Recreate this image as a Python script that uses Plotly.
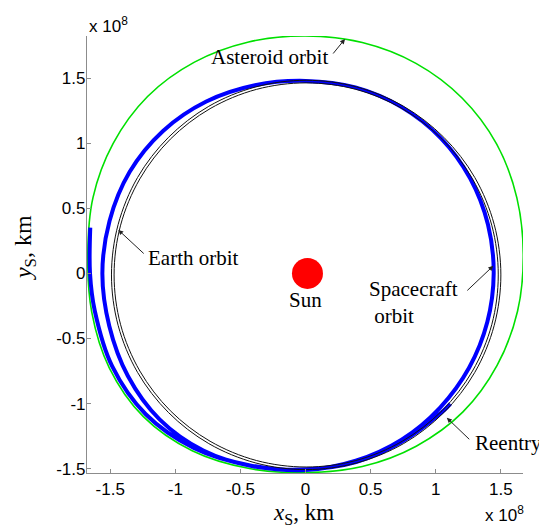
import plotly.graph_objects as go

# Units: 1e8 km (axes show "x 10^8")
# Earth orbit (two thin black traces, outer and inner)
earth_x = [1.500, 1.449, 1.300, 1.062, 0.753, 0.392, 0.005, -0.382, -0.743, -1.052, -1.290, -1.439,
           -1.490, -1.439, -1.290, -1.052, -0.743, -0.382, 0.005, 0.392, 0.753, 1.062, 1.300, 1.449, 1.500]
earth_y = [-0.012, 0.375, 0.736, 1.045, 1.283, 1.432, 1.483, 1.432, 1.283, 1.045, 0.736, 0.375,
           -0.012, -0.399, -0.760, -1.069, -1.307, -1.456, -1.507, -1.456, -1.307, -1.069, -0.760, -0.399, -0.012]
earth2_x = [1.480, 1.430, 1.282, 1.048, 0.743, 0.387, 0.005, -0.377, -0.733, -1.038, -1.272, -1.420,
            -1.470, -1.420, -1.272, -1.038, -0.733, -0.377, 0.005, 0.387, 0.743, 1.048, 1.282, 1.430, 1.480]
earth2_y = [-0.012, 0.370, 0.726, 1.031, 1.265, 1.413, 1.463, 1.413, 1.265, 1.031, 0.726, 0.370,
            -0.012, -0.394, -0.750, -1.055, -1.289, -1.437, -1.487, -1.437, -1.289, -1.055, -0.750, -0.394, -0.012]

# Asteroid orbit (green)
ast_x = [1.672, 1.623, 1.468, 1.202, 0.848, 0.436, 0.000, -0.437, -0.853, -1.213, -1.477, -1.632,
         -1.672, -1.642, -1.507, -1.245, -0.870, -0.440, 0.000, 0.436, 0.850, 1.209, 1.472, 1.628, 1.672]
ast_y = [0.145, 0.580, 0.993, 1.347, 1.613, 1.773, 1.823, 1.777, 1.622, 1.358, 0.998, 0.582,
         0.145, -0.295, -0.725, -1.100, -1.362, -1.497, -1.530, -1.483, -1.327, -1.064, -0.705, -0.291, 0.145]

# Spacecraft trajectory (blue), from departure near asteroid to reentry
sc_x = [-1.653, -1.655, -1.618, -1.485, -1.227, -0.858, -0.434, 0.000, 0.386, 0.738, 1.032, 1.256,
        1.396, 1.445, 1.401, 1.264, 1.039, 0.738, 0.383, 0.000, -0.388, -0.762, -1.094, -1.350,
        -1.505, -1.560, -1.507, -1.364, -1.121, -0.785, -0.397, 0.000, 0.388, 0.745, 1.057, 1.112]
sc_y = [0.351, 0.000, -0.289, -0.713, -1.082, -1.340, -1.473, -1.510, -1.439, -1.277, -1.032, -0.725,
        -0.374, 0.000, 0.375, 0.730, 1.039, 1.277, 1.428, 1.478, 1.445, 1.320, 1.094, 0.780,
        0.403, 0.000, -0.404, -0.788, -1.121, -1.360, -1.483, -1.505, -1.449, -1.290, -1.057, -1.002]

sun_x = [0.015]
sun_y = [0.0]

x_ticks = [-1.5, -1, -0.5, 0, 0.5, 1, 1.5]
x_tick_text = ["-1.5", "-1", "-0.5", "0", "0.5", "1", "1.5"]
y_ticks = [-1.5, -1, -0.5, 0, 0.5, 1, 1.5]
y_tick_text = ["-1.5", "-1", "-0.5", "0", "0.5", "1", "1.5"]

SERIF = "Liberation Serif"
SANS = "Liberation Sans"

fig = go.Figure()
fig.add_trace(go.Scatter(x=ast_x, y=ast_y, mode="lines", line=dict(color="#00e000", width=1.6, shape="spline"),
                         hoverinfo="skip"))
fig.add_trace(go.Scatter(x=sc_x, y=sc_y, mode="lines", line=dict(color="#0000ff", width=4, shape="spline"),
                         hoverinfo="skip"))
fig.add_trace(go.Scatter(x=earth_x, y=earth_y, mode="lines", line=dict(color="#111111", width=1, shape="spline"),
                         hoverinfo="skip"))
fig.add_trace(go.Scatter(x=earth2_x, y=earth2_y, mode="lines", line=dict(color="#111111", width=1, shape="spline"),
                         hoverinfo="skip"))
fig.add_trace(go.Scatter(x=sun_x, y=sun_y, mode="markers", marker=dict(color="#ff0000", size=31, line=dict(width=0)),
                         hoverinfo="skip"))

afont = dict(family=SERIF, size=21, color="black")
annotations = [
    dict(x=-0.28, y=1.66, text="Asteroid orbit", showarrow=False, font=afont, xanchor="center", yanchor="middle"),
    dict(x=-0.862, y=0.119, text="Earth orbit", showarrow=False, font=afont, xanchor="center", yanchor="middle"),
    dict(x=0.470, y=-0.22, text="Spacecraft<br> orbit", showarrow=False, font=afont, xanchor="left",
         yanchor="middle", align="left"),
    dict(x=1.284, y=-1.30, text="Reentry", showarrow=False, font=afont, xanchor="left", yanchor="middle"),
    dict(x=0.0, y=-0.204, text="Sun", showarrow=False, font=afont, xanchor="center", yanchor="middle"),
    # arrows
    dict(x=0.303, y=1.80, ax=0.203, ay=1.677, axref="x", ayref="y", text="", showarrow=True,
         arrowhead=2, arrowsize=1, arrowwidth=1, arrowcolor="#222222"),
    dict(x=-1.438, y=0.334, ax=-1.231, ay=0.142, axref="x", ayref="y", text="", showarrow=True,
         arrowhead=2, arrowsize=1, arrowwidth=1, arrowcolor="#222222"),
    dict(x=1.442, y=0.058, ax=1.231, ay=-0.142, axref="x", ayref="y", text="", showarrow=True,
         arrowhead=2, arrowsize=1, arrowwidth=1, arrowcolor="#222222"),
    dict(x=1.085, y=-1.109, ax=1.269, ay=-1.285, axref="x", ayref="y", text="", showarrow=True,
         arrowhead=2, arrowsize=1, arrowwidth=1, arrowcolor="#222222"),
    # exponent labels
    dict(xref="paper", yref="paper", x=0.0, y=1.025, text="x 10<sup>8</sup>", showarrow=False,
         font=dict(family=SANS, size=17, color="black"), xanchor="left", yanchor="middle"),
    dict(xref="paper", yref="paper", x=0.908, y=-0.094, text="x 10<sup>8</sup>", showarrow=False,
         font=dict(family=SANS, size=17, color="black"), xanchor="left", yanchor="middle"),
    # axis titles
    dict(xref="paper", yref="paper", x=0.497, y=-0.094, text="<i>x</i><sub>S</sub>, km", showarrow=False,
         font=dict(family=SERIF, size=23, color="black"), xanchor="center", yanchor="middle"),
    dict(xref="paper", yref="paper", x=-0.142, y=0.515, text="<i>y</i><sub>S</sub>, km", showarrow=False,
         font=dict(family=SERIF, size=24, color="black"), xanchor="center", yanchor="middle", textangle=-90),
]

axis_common = dict(showgrid=False, zeroline=False, showline=True, linecolor="#8c8c8c", linewidth=1.2,
                   ticks="inside", ticklen=4, tickcolor="#8c8c8c", tickwidth=1,
                   tickfont=dict(family=SANS, size=17, color="black"), mirror=False)

# page body has an 8px margin, so the figure is sized to sit inside the 547x527 window
fig.update_layout(
    width=539, height=519,
    margin=dict(l=79, r=24, t=28, b=54),
    paper_bgcolor="white", plot_bgcolor="white",
    showlegend=False,
    annotations=annotations,
    xaxis=dict(range=[-1.678, 1.670], tickvals=x_ticks, ticktext=x_tick_text, ticklabelstandoff=0, **axis_common),
    yaxis=dict(range=[-1.533, 1.823], tickvals=y_ticks, ticktext=y_tick_text, ticklabelstandoff=-3, **axis_common),
    hovermode=False,
)

fig.write_html("out.html", config={"displayModeBar": False})
